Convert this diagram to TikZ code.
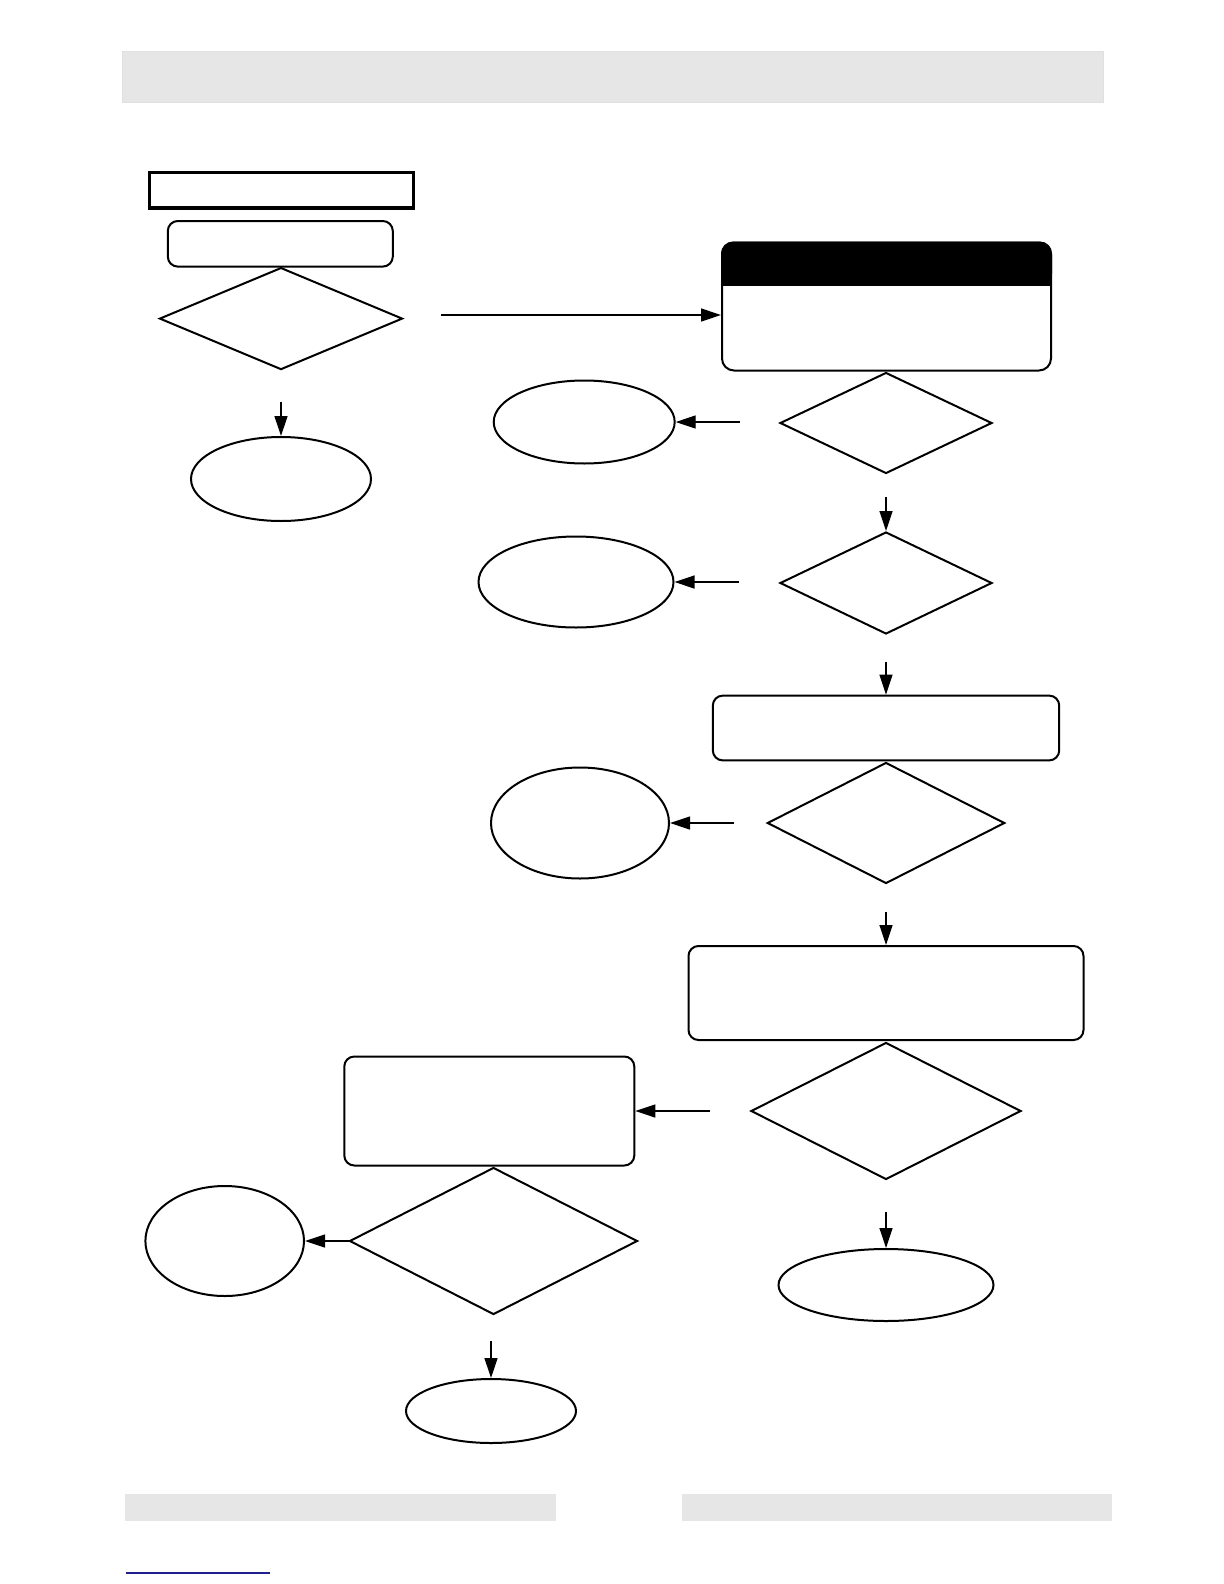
\documentclass[tikz,border=0pt]{standalone}
\usepackage{xcolor}
\usepackage{tikz}
\usetikzlibrary{shapes.geometric,arrows.meta,calc}

\definecolor{bargray}{HTML}{E6E6E6}
\definecolor{linkblue}{HTML}{1F1F8F}

\begin{document}
\begin{tikzpicture}[
    x=0.5pt, y=-0.5pt,
    every node/.style={inner sep=0pt, line width=1pt},
    decision/.style={draw, diamond},
    endnode/.style={draw, ellipse},
    procbox/.style={draw, rectangle, rounded corners=5pt},
    arr/.style={-{Triangle[length=10pt,width=6.5pt]}, line width=0.65pt}
]
\useasboundingbox (0,0) rectangle (1224,1584);

% page bars
\draw[fill=bargray, draw=black!12] (122,51.5) rectangle (1103,102);
\fill[bargray] (125,1493.6) rectangle (556.4,1521);
\fill[bargray] (681.7,1493.6) rectangle (1112,1521);
\draw[linkblue, line width=0.8pt] (126,1573) -- (269.6,1573);

% left column
\node[draw, rectangle, line width=1.6pt, minimum width=132pt, minimum height=17.6pt] (title) at (281.8,190.4) {};
\node[procbox, minimum width=112.5pt, minimum height=22.8pt] (start) at (280.3,243.8) {};
\node[decision, minimum width=121.5pt, minimum height=51pt] (d1) at (281,318.6) {};
\node[endnode, minimum width=90pt, minimum height=42pt] (e1) at (281,479) {};

% right column
\node[procbox, rounded corners=6pt, minimum width=164.5pt, minimum height=64pt] (check) at (886.5,306.5) {};
\fill[rounded corners=6pt] (check.north west) rectangle ($(check.north east)+(0,44.4)$);
\fill ($(check.north west)+(0,30)$) rectangle ($(check.north east)+(0,44.4)$);
\node[decision, minimum width=106pt, minimum height=50.5pt] (d2) at (886,423) {};
\node[endnode, minimum width=90.5pt, minimum height=41.5pt] (e2) at (584.2,422) {};
\node[decision, minimum width=106pt, minimum height=51pt] (d3) at (886,583) {};
\node[endnode, minimum width=97.5pt, minimum height=45.5pt] (e3) at (576,582) {};
\node[procbox, minimum width=173.2pt, minimum height=32.4pt] (box3) at (886,728) {};
\node[decision, minimum width=118.7pt, minimum height=60.5pt] (d4) at (886,823) {};
\node[endnode, minimum width=89pt, minimum height=55.5pt] (e4) at (580,823) {};
\node[procbox, minimum width=197.5pt, minimum height=47pt] (box4) at (886,993) {};
\node[decision, minimum width=135pt, minimum height=68.5pt] (d5) at (886,1111) {};
\node[endnode, minimum width=107.5pt, minimum height=36pt] (e6) at (886,1285) {};

% lower middle column
\node[procbox, minimum width=145pt, minimum height=54.5pt] (box5) at (489.3,1111) {};
\node[decision, minimum width=144pt, minimum height=73.5pt] (d6) at (493.5,1241) {};
\node[endnode, minimum width=79.3pt, minimum height=55pt] (e5) at (224.7,1241) {};
\node[endnode, minimum width=85pt, minimum height=32pt] (e7) at (491,1411) {};

% free ends of the connectors
\coordinate (d1-out) at (441.3,315);
\coordinate (d1-down) at (281,402);
\coordinate (d2-left) at (740,422);
\coordinate (d2-down) at (886,497);
\coordinate (d3-left) at (739,582);
\coordinate (d3-down) at (886,661.5);
\coordinate (d4-left) at (734,823);
\coordinate (d4-down) at (886,912);
\coordinate (d5-left) at (710,1111);
\coordinate (d5-down) at (886,1212);
\coordinate (d6-down) at (491,1341);

\draw[arr] (d1-out) -- (d1-out -| check.west);
\foreach \a/\b in {d1-down/e1.north, d2-left/e2.east, d2-down/d3.north,
                   d3-left/e3.east, d3-down/box3.north, d4-left/e4.east,
                   d4-down/box4.north, d5-left/box5.east, d5-down/e6.north,
                   d6.west/e5.east, d6-down/e7.north} {
    \draw[arr] (\a) -- (\b);
}
\end{tikzpicture}
\end{document}
